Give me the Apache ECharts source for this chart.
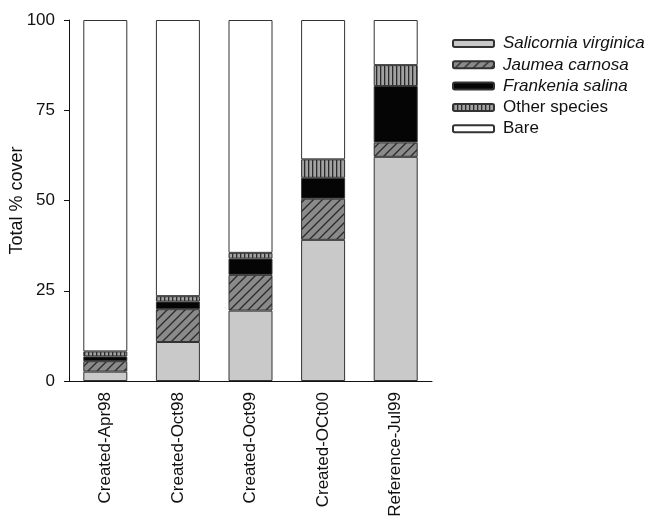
<!DOCTYPE html>
<html>
<head>
<meta charset="utf-8">
<script src="https://cdn.jsdelivr.net/npm/echarts@6/dist/echarts.min.js"></script>
<style>
  html, body { margin: 0; padding: 0; background: #fff; }
  #chart { width: 648px; height: 519px; }
</style>
</head>
<body>
<div id="chart"></div>
<script>
// Sampling dates / sites
const categories = ['Created-Apr98', 'Created-Oct98', 'Created-Oct99', 'Created-OCt00', 'Reference-Jul99'];

// Percent cover per component, stacked bottom to top
const salicornia = [2.6, 10.8, 19.5, 39.1, 62.1];
const jaumea     = [2.9, 9.1, 9.9, 11.4, 4.0];
const frankenia  = [1.3, 2.1, 4.5, 5.8, 15.6];
const otherSpp   = [1.4, 1.5, 1.6, 5.1, 5.8];
const bare       = [91.8, 76.5, 64.5, 38.6, 12.5];

const yTicks = [0, 25, 50, 75, 100];

// Fill patterns drawn on small tiles
function diagonalHatch() {
  const s = 9;
  const c = document.createElement('canvas');
  c.width = s; c.height = s;
  const g = c.getContext('2d');
  g.fillStyle = '#8a8a8a';
  g.fillRect(0, 0, s, s);
  g.strokeStyle = '#2a2a2a';
  g.lineWidth = 1.3;
  g.beginPath();
  g.moveTo(-1, s + 1); g.lineTo(s + 1, -1);
  g.moveTo(-1, 1); g.lineTo(1, -1);
  g.moveTo(s - 1, s + 1); g.lineTo(s + 1, s - 1);
  g.stroke();
  return c;
}
function verticalHatch() {
  const c = document.createElement('canvas');
  c.width = 4; c.height = 4;
  const g = c.getContext('2d');
  g.fillStyle = '#a2a2a2';
  g.fillRect(0, 0, 4, 4);
  g.fillStyle = '#2a2a2a';
  g.fillRect(0, 0, 1.3, 4);
  return c;
}

const fills = {
  sal: '#c9c9c9',
  jau: { image: diagonalHatch(), repeat: 'repeat' },
  fra: '#050505',
  oth: { image: verticalHatch(), repeat: 'repeat' },
  bare: '#ffffff'
};

const font = 'Liberation Sans, Arial, Helvetica, sans-serif';
const textColor = '#111';
const fs = 17;

function barSeries(name, data, color) {
  return {
    name: name,
    type: 'bar',
    stack: 'cover',
    yAxisIndex: 0,
    data: data,
    barWidth: 44,
    itemStyle: { color: color, borderColor: '#333', borderWidth: 1 },
    emphasis: { disabled: true }
  };
}

const chart = echarts.init(document.getElementById('chart'), null, { renderer: 'canvas' });

chart.setOption({
  animation: false,
  backgroundColor: '#fff',
  textStyle: { fontFamily: font },
  grid: { left: 69, right: 216, top: 20, bottom: 138, containLabel: false, outerBoundsMode: 'none' },
  legend: {
    orient: 'vertical',
    left: 452,
    top: 35,
    padding: 0,
    itemWidth: 41,
    itemHeight: 7,
    itemGap: 4.3,
    icon: 'roundRect',
    selectedMode: false,
    textStyle: { fontSize: fs, color: textColor, fontFamily: font, lineHeight: 17, padding: [0, 0, 0, 4] },
    data: [
      { name: 'Salicornia virginica', textStyle: { fontStyle: 'italic' } },
      { name: 'Jaumea carnosa', textStyle: { fontStyle: 'italic' } },
      { name: 'Frankenia salina', textStyle: { fontStyle: 'italic' } },
      { name: 'Other species' },
      { name: 'Bare' }
    ]
  },
  xAxis: {
    type: 'category',
    data: categories,
    axisLine: { lineStyle: { color: '#111', width: 1 } },
    axisTick: { alignWithLabel: true, length: 5, lineStyle: { color: '#111' } },
    axisLabel: { rotate: 90, fontSize: fs, color: textColor, margin: 11, fontFamily: font }
  },
  yAxis: [
    {
      // value axis with ticks and tick labels
      type: 'value',
      position: 'left',
      min: yTicks[0],
      max: yTicks[yTicks.length - 1],
      interval: 25,
      splitLine: { show: false },
      axisLine: { show: true, lineStyle: { color: '#111', width: 1 } },
      axisTick: { show: true, length: 5, lineStyle: { color: '#111' } },
      axisLabel: { fontSize: fs, color: textColor, margin: 14, fontFamily: font }
    },
    {
      // carries only the axis title
      type: 'value',
      position: 'left',
      min: yTicks[0],
      max: yTicks[yTicks.length - 1],
      interval: 25,
      name: 'Total % cover',
      nameLocation: 'middle',
      nameGap: 43,
      nameTextStyle: { fontSize: fs + 1, color: textColor, fontFamily: font },
      splitLine: { show: false },
      axisLine: { show: false },
      axisTick: { show: false },
      axisLabel: { show: false }
    }
  ],
  series: [
    barSeries('Salicornia virginica', salicornia, fills.sal),
    barSeries('Jaumea carnosa', jaumea, fills.jau),
    barSeries('Frankenia salina', frankenia, fills.fra),
    barSeries('Other species', otherSpp, fills.oth),
    barSeries('Bare', bare, fills.bare)
  ]
});
</script>
</body>
</html>
